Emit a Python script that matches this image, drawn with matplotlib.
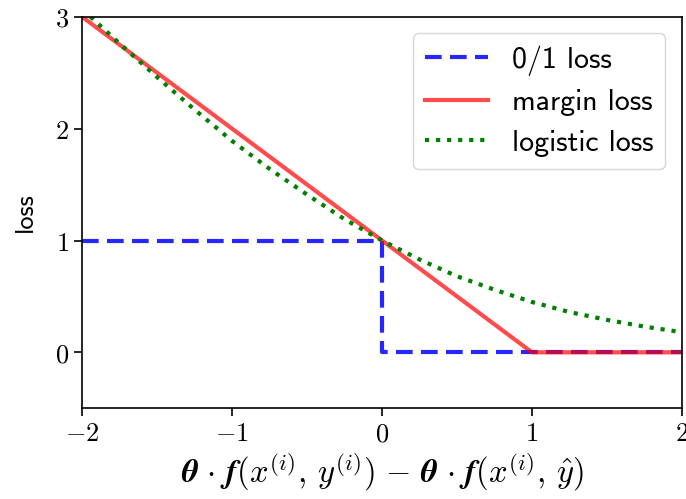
import matplotlib
matplotlib.use("Agg")
import matplotlib.pyplot as plt

plt.rcParams['mathtext.fontset'] = 'cm'
plt.rcParams['axes.unicode_minus'] = False

# 0/1 loss
zero_one_x = [-2, 0, 0, 2]
zero_one_y = [1, 1, 0, 0]
# margin (hinge) loss
margin_x = [-2, 1, 2]
margin_y = [3, 0, 0]
# logistic loss
logistic_x = [-2, -1.75, -1.5, -1.25, -1, -0.75, -0.5, -0.25, 0,
              0.25, 0.5, 0.75, 1, 1.25, 1.5, 1.75, 2]
logistic_y = [3.07, 2.76, 2.46, 2.17, 1.89, 1.64, 1.41, 1.19, 1.0,
              0.83, 0.68, 0.56, 0.45, 0.36, 0.29, 0.23, 0.18]

xticks = [-2, -1, 0, 1, 2]
yticks = [0, 1, 2, 3]

fig, ax = plt.subplots(figsize=(6.86, 4.99), dpi=100)
fig.subplots_adjust(left=0.12, right=0.994, top=0.966, bottom=0.182)

ax.plot(zero_one_x, zero_one_y, 'b--', lw=3, alpha=0.85, dashes=(4, 2),
        label='0/1 loss')
ax.plot(margin_x, margin_y, 'r-', lw=3, alpha=0.7, label='margin loss')
ax.plot(logistic_x, logistic_y, 'g:', lw=3, label='logistic loss')

ax.set_xlim(-2, 2)
ax.set_ylim(-0.5, 3)
ax.set_xticks(xticks)
ax.set_xticklabels([f'${v}$' for v in xticks], fontsize=19)
ax.set_yticks(yticks)
ax.set_yticklabels([f'${v}$' for v in yticks], fontsize=19)
ax.tick_params(width=1.2, length=6)
for s in ax.spines.values():
    s.set_linewidth(1.2)

ax.set_xlabel(r'$\boldsymbol{\theta}\ \boldsymbol{\cdot}\ \boldsymbol{f(x^{(i)},\,y^{(i)})}'
              r'\ \boldsymbol{-}\ \boldsymbol{\theta}\ \boldsymbol{\cdot}\ '
              r'\boldsymbol{f(x^{(i)},\,\hat{y})}$',
              fontsize=23.5, labelpad=2)
ax.set_ylabel('loss', fontsize=19, fontfamily='cmss10', labelpad=13)
ax.legend(loc='upper right', prop={'family': 'cmss10', 'size': 21.5},
          handlelength=2.1, borderaxespad=0.55, labelspacing=0.45)

fig.savefig('out.png')
